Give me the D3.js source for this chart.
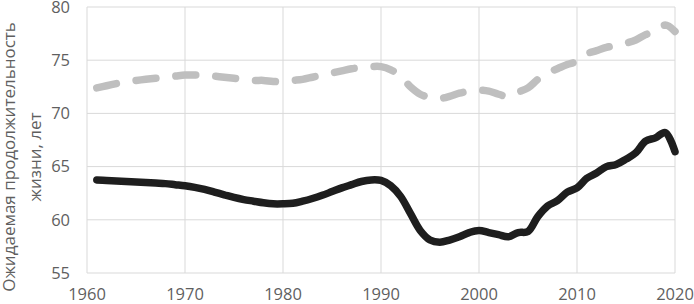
<!DOCTYPE html>
<html lang="ru">
<head>
  <meta charset="UTF-8">
  <title>Ожидаемая продолжительность жизни</title>
  <style>
    body { margin: 0; background: #fff; }
    text { font-family: "Open Sans", sans-serif; fill: #5f5f5f; }
  </style>
</head>
<body>
  <svg class="line-chart"></svg>
  <script src="https://cdn.jsdelivr.net/npm/d3@7"></script>
  <script>
    let years = [1961, 1962, 1963, 1964, 1965, 1966, 1967, 1968, 1969, 1970,
      1971, 1972, 1973, 1974, 1975, 1976, 1977, 1978, 1979, 1980,
      1981, 1982, 1983, 1984, 1985, 1986, 1987, 1988, 1989, 1990,
      1991, 1992, 1993, 1994, 1995, 1996, 1997, 1998, 1999, 2000,
      2001, 2002, 2003, 2004, 2005, 2006, 2007, 2008, 2009, 2010,
      2011, 2012, 2013, 2014, 2015, 2016, 2017, 2018, 2019, 2020]

    // мужчины (сплошная чёрная)
    let male = [63.75, 63.7, 63.65, 63.6, 63.55, 63.5, 63.45, 63.4, 63.3, 63.2,
      63.05, 62.85, 62.6, 62.35, 62.1, 61.9, 61.75, 61.6, 61.5, 61.5,
      61.55, 61.75, 62.0, 62.3, 62.65, 63.0, 63.3, 63.6, 63.75, 63.7,
      63.2, 62.2, 60.6, 59.0, 58.1, 57.9, 58.1, 58.4, 58.8, 59.0,
      58.8, 58.6, 58.4, 58.8, 58.9, 60.3, 61.3, 61.8, 62.6, 63.0,
      63.9, 64.4, 65.0, 65.2, 65.7, 66.3, 67.4, 67.7, 68.2, 66.4]

    // женщины (серая пунктирная)
    let female = [72.4, 72.6, 72.8, 73.0, 73.1, 73.2, 73.3, 73.4, 73.5, 73.6,
      73.6, 73.6, 73.5, 73.4, 73.3, 73.2, 73.1, 73.1, 73.0, 73.0,
      73.1, 73.2, 73.4, 73.6, 73.8, 74.0, 74.2, 74.3, 74.4, 74.4,
      74.1, 73.5, 72.5, 71.8, 71.5, 71.4, 71.6, 71.9, 72.1, 72.2,
      72.1, 71.8, 71.6, 72.0, 72.4, 73.2, 73.8, 74.2, 74.6, 74.9,
      75.6, 75.9, 76.2, 76.4, 76.6, 76.9, 77.4, 77.7, 78.3, 77.7]

    let xTicks = [1960, 1970, 1980, 1990, 2000, 2010, 2020]
    let yTicks = [55, 60, 65, 70, 75, 80]
    let titleLines = ['Ожидаемая продолжительность', 'жизни, лет']

    let svgWidth = 694, svgHeight = 304
    let margin = { left: 87, right: 19, top: 7, bottom: 31 }

    let svg = d3.select('svg')
      .attr('width', svgWidth)
      .attr('height', svgHeight)

    let x = d3.scaleLinear().domain([1960, 2020]).range([margin.left, svgWidth - margin.right])
    let y = d3.scaleLinear().domain([55, 80]).range([svgHeight - margin.bottom, margin.top])

    // сетка
    svg.append('g').selectAll('line.h')
      .data(yTicks)
      .enter().append('line')
      .attr('x1', x(1960)).attr('x2', x(2020))
      .attr('y1', d => y(d)).attr('y2', d => y(d))
      .attr('stroke', '#d9d9d9').attr('stroke-width', 1)

    svg.append('g').selectAll('line.v')
      .data(xTicks)
      .enter().append('line')
      .attr('x1', d => x(d)).attr('x2', d => x(d))
      .attr('y1', y(55)).attr('y2', y(80))
      .attr('stroke', '#d9d9d9').attr('stroke-width', 1)

    // подписи осей
    svg.append('g').selectAll('text')
      .data(yTicks)
      .enter().append('text')
      .attr('x', 70)
      .attr('y', d => y(d))
      .attr('dy', '0.35em')
      .attr('text-anchor', 'end')
      .style('font-size', '16.5px')
      .text(d => d)

    svg.append('g').selectAll('text')
      .data(xTicks)
      .enter().append('text')
      .attr('x', d => x(d))
      .attr('y', 300)
      .attr('text-anchor', 'middle')
      .style('font-size', '16.5px')
      .text(d => d)

    svg.append('g')
      .attr('transform', 'translate(0,157) rotate(-90)')
      .selectAll('text')
      .data(titleLines)
      .enter().append('text')
      .attr('x', 0)
      .attr('y', (d, i) => 15 + i * 26)
      .attr('text-anchor', 'middle')
      .style('font-size', '17px')
      .text(d => d)

    // линии
    let line = d3.line()
      .x((d, i) => x(years[i]))
      .y(d => y(d))
      .curve(d3.curveCatmullRom)

    svg.append('path')
      .datum(female)
      .attr('d', line)
      .attr('fill', 'none')
      .attr('stroke', '#bfbfbf')
      .attr('stroke-width', 7.5)
      .attr('stroke-linecap', 'round')
      .attr('stroke-dasharray', '20,20')

    svg.append('path')
      .datum(male)
      .attr('d', line)
      .attr('fill', 'none')
      .attr('stroke', '#1e1e1e')
      .attr('stroke-width', 7.5)
      .attr('stroke-linecap', 'round')
      .attr('stroke-linejoin', 'round')
  </script>
</body>
</html>
